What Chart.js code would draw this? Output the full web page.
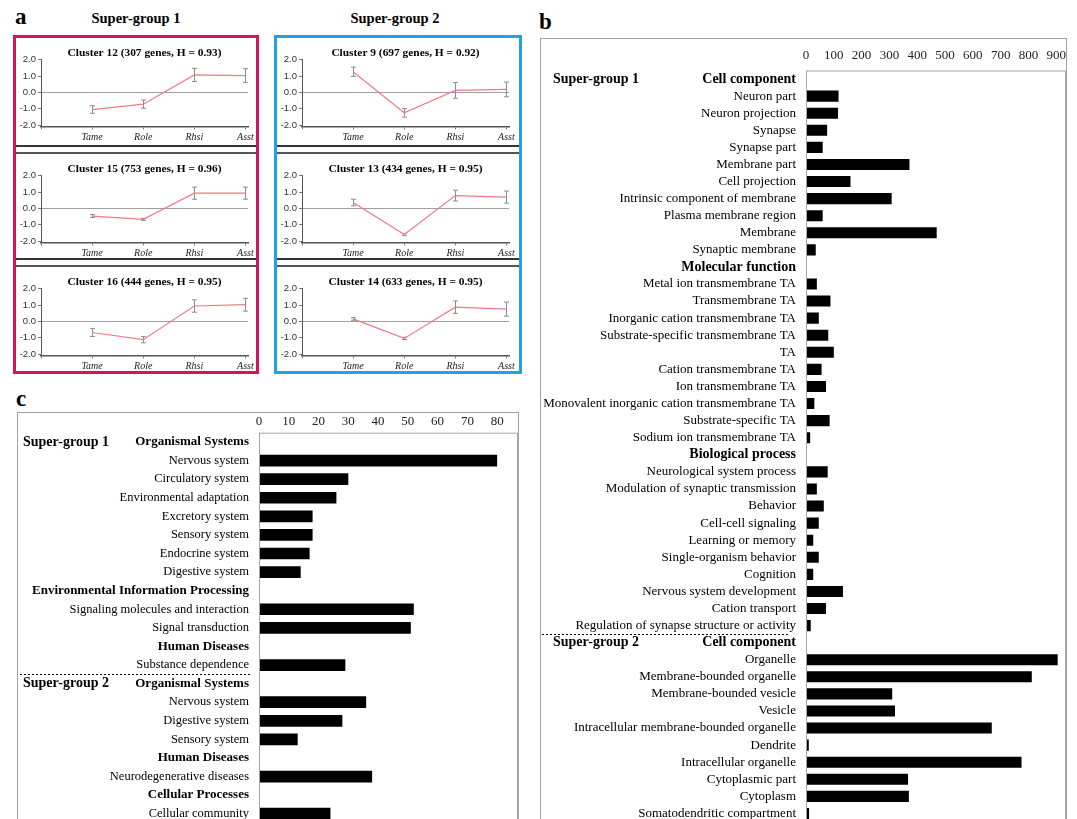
<!DOCTYPE html>
<html>
<head>
<meta charset="utf-8">
<script src="https://cdn.jsdelivr.net/npm/chart.js@4.4.0/dist/chart.umd.min.js"></script>
<style>
  body { margin: 0; width: 1077px; height: 819px; overflow: hidden; position: relative; background: #fff; font-family: "Liberation Serif", serif; }
  .abs { position: absolute; }
  .tag { font-weight: bold; font-size: 23px; line-height: 1; }
  .sg { font-weight: bold; font-size: 14.5px; text-align: center; width: 160px; line-height: 1; }
  .box { position: absolute; box-sizing: border-box; border: 3px solid; }
  .sep { position: absolute; }
  .frame { position: absolute; box-sizing: border-box; border: 1.5px solid #a3a3a3; }
  canvas { position: absolute; }
</style>
</head>
<body>
<div class="abs tag" style="left:15px;top:5px;">a</div>
<div class="abs sg" style="left:56px;top:11px;">Super-group 1</div>
<div class="abs sg" style="left:315px;top:11px;">Super-group 2</div>
<div class="box" style="left:13px;top:35px;width:246px;height:339px;border-color:#d6145a;"></div>
<div class="box" style="left:274px;top:35px;width:248px;height:339px;border-color:#1fa2e6;"></div>
<div class="sep" style="left:16px;top:145px;width:240px;height:1.5px;background:#333;"></div>
<div class="sep" style="left:16px;top:152px;width:240px;height:2px;background:#555;"></div>
<div class="sep" style="left:16px;top:258px;width:240px;height:1.5px;background:#333;"></div>
<div class="sep" style="left:16px;top:265px;width:240px;height:2px;background:#555;"></div>
<div class="sep" style="left:277px;top:145px;width:242px;height:1.5px;background:#333;"></div>
<div class="sep" style="left:277px;top:152px;width:242px;height:2px;background:#555;"></div>
<div class="sep" style="left:277px;top:258px;width:242px;height:1.5px;background:#333;"></div>
<div class="sep" style="left:277px;top:265px;width:242px;height:2px;background:#555;"></div>

<canvas id="c12" width="239" height="105" style="left:17px;top:39px;"></canvas>
<canvas id="c15" width="239" height="105" style="left:17px;top:155px;"></canvas>
<canvas id="c16" width="239" height="105" style="left:17px;top:268px;"></canvas>
<canvas id="c9" width="239" height="105" style="left:278px;top:39px;"></canvas>
<canvas id="c13" width="239" height="105" style="left:278px;top:155px;"></canvas>
<canvas id="c14" width="239" height="105" style="left:278px;top:268px;"></canvas>

<div class="abs tag" style="left:539px;top:10px;">b</div>
<div class="frame" style="left:540px;top:38px;width:527px;height:800px;"></div>
<canvas id="chartB" width="525" height="783" style="left:541px;top:39px;"></canvas>

<div class="abs tag" style="left:16px;top:387px;">c</div>
<div class="frame" style="left:17px;top:412px;width:502px;height:420px;"></div>
<canvas id="chartC" width="500" height="410" style="left:18px;top:413px;"></canvas>

<script>
// ---- panel a: expression profiles ----
const stages = ["Tame", "Role", "Rhsi", "Asst"];
const cluster12 = [-1.05, -0.72, 1.07, 1.03];
const cluster12Err = [0.23, 0.25, 0.40, 0.42];
const cluster15 = [-0.47, -0.67, 0.93, 0.93];
const cluster15Err = [0.09, 0.06, 0.37, 0.37];
const cluster16 = [-0.68, -1.12, 0.94, 1.02];
const cluster16Err = [0.25, 0.19, 0.38, 0.39];
const cluster9 = [1.26, -1.25, 0.12, 0.18];
const cluster9Err = [0.28, 0.26, 0.48, 0.45];
const cluster13 = [0.36, -1.6, 0.78, 0.69];
const cluster13Err = [0.2, 0.07, 0.33, 0.37];
const cluster14 = [0.15, -1.04, 0.87, 0.75];
const cluster14Err = [0.08, 0.07, 0.38, 0.43];

// ---- panel b: GO terms (counts) ----
const bCell1Labels = ["Neuron part", "Neuron projection", "Synapse", "Synapse part", "Membrane part", "Cell projection", "Intrinsic component of membrane", "Plasma membrane region", "Membrane", "Synaptic membrane"];
const bCell1Values = [117, 115, 76, 60, 372, 160, 308, 60, 470, 35];
const bMolLabels = ["Metal ion transmembrane TA", "Transmembrane TA", "Inorganic cation transmembrane TA", "Substrate-specific transmembrane TA", "TA", "Cation transmembrane TA", "Ion transmembrane TA", "Monovalent inorganic cation transmembrane TA", "Substrate-specific TA", "Sodium ion transmembrane TA"];
const bMolValues = [39, 88, 46, 80, 100, 56, 72, 30, 85, 15];
const bBioLabels = ["Neurological system process", "Modulation of synaptic transmission", "Behavior", "Cell-cell signaling", "Learning or memory", "Single-organism behavior", "Cognition", "Nervous system development", "Cation transport", "Regulation of synapse structure or activity"];
const bBioValues = [78, 39, 64, 46, 26, 46, 26, 133, 72, 17];
const bCell2Labels = ["Organelle", "Membrane-bounded organelle", "Membrane-bounded vesicle", "Vesicle", "Intracellular membrane-bounded organelle", "Dendrite", "Intracellular organelle", "Cytoplasmic part", "Cytoplasm", "Somatodendritic compartment"];
const bCell2Values = [905, 812, 310, 320, 668, 10, 775, 367, 370, 11];
const bTicks = [0, 100, 200, 300, 400, 500, 600, 700, 800, 900];

// ---- panel c: KEGG pathways (counts) ----
const cOrg1Labels = ["Nervous system", "Circulatory system", "Environmental adaptation", "Excretory system", "Sensory system", "Endocrine system", "Digestive system"];
const cOrg1Values = [80, 30, 26, 18, 18, 17, 14];
const cEnvLabels = ["Signaling molecules and interaction", "Signal transduction"];
const cEnvValues = [52, 51];
const cHum1Labels = ["Substance dependence"];
const cHum1Values = [29];
const cOrg2Labels = ["Nervous system", "Digestive system", "Sensory system"];
const cOrg2Values = [36, 28, 13];
const cHum2Labels = ["Neurodegenerative diseases"];
const cHum2Values = [38];
const cCellLabels = ["Cellular community"];
const cCellValues = [24];
const cTicks = [0, 10, 20, 30, 40, 50, 60, 70, 80];

const SERIF = "'Liberation Serif', 'Times New Roman', serif";
const SANS = "'Liberation Sans', Arial, sans-serif";

const errorBars = {
  id: "errorBars",
  beforeDatasetsDraw(chart) {
    const ds = chart.data.datasets[0];
    const { ctx, scales: { x, y } } = chart;
    ctx.save();
    ctx.strokeStyle = "#8c8c8c";
    ctx.lineWidth = 1;
    ds.data.forEach((pt, i) => {
      const px = Math.round(x.getPixelForValue(pt.x)) + 0.5;
      const top = y.getPixelForValue(pt.y + ds.errors[i]);
      const bot = y.getPixelForValue(pt.y - ds.errors[i]);
      ctx.beginPath();
      ctx.moveTo(px, top); ctx.lineTo(px, bot);
      ctx.moveTo(px - 2.5, top); ctx.lineTo(px + 2.5, top);
      ctx.moveTo(px - 2.5, bot); ctx.lineTo(px + 2.5, bot);
      ctx.stroke();
    });
    ctx.restore();
  },
};

function clusterChart(id, title, values, errors) {
  new Chart(document.getElementById(id), {
    type: "line",
    data: {
      datasets: [{
        data: values.map((v, i) => ({ x: i + 1, y: v })),
        errors,
        borderColor: "#f07b86",
        borderWidth: 1.2,
        pointRadius: 0,
        tension: 0,
      }],
    },
    options: {
      responsive: false,
      animation: false,
      layout: { padding: { right: 8 } },
      plugins: {
        legend: { display: false },
        tooltip: { enabled: false },
        title: {
          display: true, text: title, fullSize: false, color: "#000",
          font: { family: SERIF, size: 11.4, weight: "bold" }, padding: { top: 7, bottom: 0 },
        },
      },
      scales: {
        x: {
          type: "linear", min: 0, max: 4.05,
          afterFit: (s) => { s.height = 17.6; },
          ticks: {
            stepSize: 1, includeBounds: false, autoSkip: false, maxRotation: 0, padding: 2,
            color: "#222", font: { family: SERIF, size: 10, style: "italic" },
            callback: (v) => stages[v - 1] || "",
          },
          grid: { drawOnChartArea: false, tickColor: "#777", tickLength: 3 },
          border: { color: "#555", width: 1.5 },
        },
        y: {
          min: -2.08, max: 2,
          afterFit: (s) => { s.width = 24; },
          ticks: {
            stepSize: 1, includeBounds: false, padding: 2, color: "#333",
            font: { family: SANS, size: 9.5 },
            callback: (v) => v.toFixed(1),
          },
          grid: {
            color: (c) => (c.tick && c.tick.value === 0 ? "#a0a0a0" : "rgba(0,0,0,0)"),
            tickColor: "#777", tickLength: 3,
          },
          border: { color: "#555", width: 1 },
        },
      },
    },
    plugins: [errorBars],
  });
}

clusterChart("c12", "Cluster 12 (307 genes, H = 0.93)", cluster12, cluster12Err);
clusterChart("c15", "Cluster 15 (753 genes, H = 0.96)", cluster15, cluster15Err);
clusterChart("c16", "Cluster 16 (444 genes, H = 0.95)", cluster16, cluster16Err);
clusterChart("c9", "Cluster 9 (697 genes, H = 0.92)", cluster9, cluster9Err);
clusterChart("c13", "Cluster 13 (434 genes, H = 0.95)", cluster13, cluster13Err);
clusterChart("c14", "Cluster 14 (633 genes, H = 0.95)", cluster14, cluster14Err);

// header rows get a null value and a bold label
function buildRows(groups) {
  const labels = [], values = [], headers = new Set();
  for (const [header, names, vals] of groups) {
    headers.add(labels.length);
    labels.push(header); values.push(null);
    names.forEach((n, i) => { labels.push(n); values.push(vals[i]); });
  }
  return { labels, values, headers };
}

const groupMarks = {
  id: "groupMarks",
  afterDraw(chart, args, opts) {
    const { ctx, chartArea: a, scales: { y } } = chart;
    ctx.save();
    ctx.strokeStyle = "#a6a6a6";
    ctx.lineWidth = 1;
    ctx.strokeRect(a.left + 0.5, a.top + 0.5, a.right - a.left - 1, a.bottom - a.top + 40);
    ctx.fillStyle = "#000";
    ctx.font = `bold ${opts.size}px ${SERIF}`;
    ctx.textAlign = "left";
    ctx.textBaseline = "middle";
    opts.groups.forEach(([row, text]) => ctx.fillText(text, opts.textX, y.getPixelForValue(row)));
    const yd = Math.round((y.getPixelForValue(opts.dashRow - 1) + y.getPixelForValue(opts.dashRow)) / 2) + 0.5;
    ctx.strokeStyle = "#000";
    ctx.setLineDash([2, 2]);
    ctx.beginPath();
    ctx.moveTo(opts.dashFrom, yd);
    ctx.lineTo(opts.dashTo, yd);
    ctx.stroke();
    ctx.restore();
  },
};

function termChart(id, rows, opt) {
  new Chart(document.getElementById(id), {
    type: "bar",
    data: {
      labels: rows.labels,
      datasets: [{ data: rows.values, backgroundColor: "#000", categoryPercentage: 1, barPercentage: opt.bar }],
    },
    options: {
      indexAxis: "y",
      responsive: false,
      animation: false,
      layout: { padding: 0 },
      plugins: { legend: { display: false }, tooltip: { enabled: false }, groupMarks: opt.marks },
      scales: {
        x: {
          position: "top", min: 0, max: opt.max,
          afterFit: (s) => { s.height = opt.axisH; s.paddingLeft = 0; s.paddingRight = 0; },
          afterBuildTicks: (s) => { s.ticks = opt.ticks.map((v) => ({ value: v })); },
          ticks: { autoSkip: false, maxRotation: 0, padding: opt.tickPad, color: "#222", font: { family: SERIF, size: 13 } },
          grid: { display: false, drawTicks: false },
          border: { display: false },
        },
        y: {
          afterFit: (s) => { s.width = opt.axisW; s.paddingTop = 0; s.paddingBottom = 0; },
          ticks: {
            autoSkip: false, padding: 10, color: "#000",
            font: (c) => (rows.headers.has(c.index)
              ? { family: SERIF, size: opt.headSize, weight: "bold" }
              : { family: SERIF, size: opt.itemSize }),
          },
          grid: { display: false, drawTicks: false },
          border: { display: false },
        },
      },
    },
    plugins: [groupMarks],
  });
}

const rowsB = buildRows([
  ["Cell component", bCell1Labels, bCell1Values],
  ["Molecular function", bMolLabels, bMolValues],
  ["Biological process", bBioLabels, bBioValues],
  ["Cell component", bCell2Labels, bCell2Values],
]);
termChart("chartB", rowsB, {
  max: 935, ticks: bTicks, axisH: 31.5, axisW: 265, tickPad: 7, bar: 0.65, headSize: 14, itemSize: 13,
  marks: { size: 14, textX: 12, groups: [[0, "Super-group 1"], [33, "Super-group 2"]], dashRow: 33, dashFrom: 1, dashTo: 249 },
});

const rowsC = buildRows([
  ["Organismal Systems", cOrg1Labels, cOrg1Values],
  ["Environmental Information Processing", cEnvLabels, cEnvValues],
  ["Human Diseases", cHum1Labels, cHum1Values],
  ["Organismal Systems", cOrg2Labels, cOrg2Values],
  ["Human Diseases", cHum2Labels, cHum2Values],
  ["Cellular Processes", cCellLabels, cCellValues],
]);
termChart("chartC", rowsC, {
  max: 87, ticks: cTicks, axisH: 19.7, axisW: 241, tickPad: 3, bar: 0.63, headSize: 13, itemSize: 12.5,
  marks: { size: 14, textX: 5, groups: [[0, "Super-group 1"], [13, "Super-group 2"]], dashRow: 13, dashFrom: 2, dashTo: 232 },
});
</script>
</body>
</html>
